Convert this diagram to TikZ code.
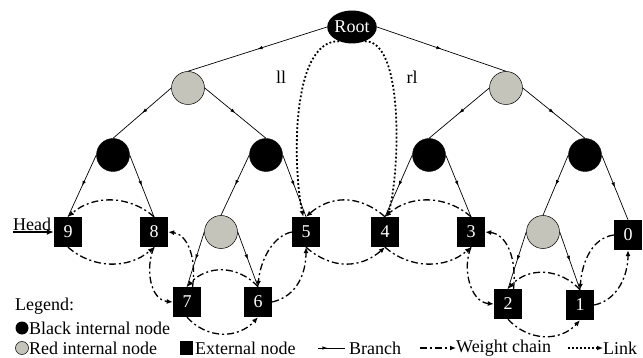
\documentclass[tikz,border=0pt]{standalone}
\usepackage{fontspec}
\setmainfont{Liberation Serif}
\usetikzlibrary{arrows.meta,decorations.markings,shapes.geometric}
\definecolor{rgray}{RGB}{196,196,186}
\begin{document}
\begin{tikzpicture}[x=1pt,y=-1pt,
  font=\fontsize{18}{21}\selectfont,
  blknode/.style={circle,fill=black,draw=black,minimum size=33pt,inner sep=0pt},
  rednode/.style={circle,fill=rgray,draw=black,line width=0.5pt,minimum size=33pt,inner sep=0pt},
  extnode/.style={rectangle,fill=black,text=white,minimum width=28pt,minimum height=30pt,inner sep=0pt},
  branch/.style={line width=0.7pt,postaction={decorate},decoration={markings,mark=at position 0.5 with {\arrow{Latex[length=5pt,width=3.5pt]}}}},
  wchain/.style={line width=1.3pt,dash pattern=on 7pt off 3pt on 2pt off 3pt,-{Latex[length=6pt,width=5pt]}},
  link/.style={line width=1.8pt,dash pattern=on 1.8pt off 2.2pt,-{Latex[length=6pt,width=5pt]}},
  txt/.style={inner sep=0pt}
]
\useasboundingbox (0,0) rectangle (643,358);
\fill[white] (0,0) rectangle (643,358);

% tree nodes
\node[ellipse,fill=black,text=white,minimum width=43pt,minimum height=33pt,inner sep=0pt] (root) at (352,27) {Root};
\node[rednode] (gL) at (188,88) {};
\node[rednode] (gR) at (506,88) {};
\node[blknode] (bA) at (113,155) {};
\node[blknode] (bB) at (266,155) {};
\node[blknode] (bC) at (429,155) {};
\node[blknode] (bD) at (585,155) {};
\node[extnode] (n9) at (68,232) {9};
\node[extnode] (n8) at (154,232) {8};
\node[rednode] (gL3) at (221,232) {};
\node[extnode] (n5) at (306,232) {5};
\node[extnode] (n4) at (385,232) {4};
\node[extnode] (n3) at (471,232) {3};
\node[rednode] (gR3) at (543,232) {};
\node[extnode] (n0) at (628,235) {0};
\node[extnode] (n7) at (187,302) {7};
\node[extnode] (n6) at (258,302) {6};
\node[extnode] (n2) at (508,304) {2};
\node[extnode] (n1) at (580,305) {1};

% branches
\draw[branch] (root.west) -- (gL.north);
\draw[branch] (root.east) -- (gR.north);
\draw[branch] (gL.west) -- (bA.north);
\draw[branch] (gL.east) -- (bB.north);
\draw[branch] (gR.west) -- (bC.north);
\draw[branch] (gR.east) -- (bD.north);
\draw[branch] (bA.west) -- (n9.north);
\draw[branch] (bA.east) -- (n8.north);
\draw[branch] (bB.west) -- (gL3.north);
\draw[branch] (bB.east) -- (n5.north);
\draw[branch] (bC.west) -- (n4.north);
\draw[branch] (bC.east) -- (n3.north);
\draw[branch] (bD.west) -- (gR3.north);
\draw[branch] (bD.east) -- (n0.north);
\draw[branch] (gL3.west) -- (n7.north);
\draw[branch] (gL3.east) -- (n6.north);
\draw[branch] (gR3.west) -- (n2.north);
\draw[branch] (gR3.east) -- (n1.north);

% links
\draw[link] (root.228) .. controls (290,40) and (293,170) .. (n5.100);
\draw[link] (root.312) .. controls (404,40) and (400,170) .. (n4.80);
\node[txt] (ll) at (281,77) {ll};
\node[txt] (rl) at (412,77) {rl};

% weight chain
\draw[wchain] (n8.north) .. controls +(-25,-22) and +(25,-22) .. (n9.north);
\draw[wchain] (n9.south) .. controls +(25,22) and +(-25,22) .. (n8.south);
\draw[wchain] (n7.70) .. controls (197,255) and (186,234) .. (n8.east);
\draw[wchain] (n8.south) .. controls (145,268) and (150,300) .. (n7.west);
\draw[wchain] (n6.north) .. controls +(-20,-22) and +(20,-22) .. (n7.north);
\draw[wchain] (n7.south) .. controls +(20,22) and +(-20,22) .. (n6.south);
\draw[wchain] (n6.east) .. controls (298,296) and (306,272) .. (n5.south);
\draw[wchain] (n5.west) .. controls (272,236) and (260,262) .. (n6.north);
\draw[wchain] (n4.north) .. controls +(-25,-22) and +(25,-22) .. (n5.north);
\draw[wchain] (n5.south) .. controls +(25,22) and +(-25,22) .. (n4.south);
\draw[wchain] (n3.north) .. controls +(-25,-22) and +(25,-22) .. (n4.north);
\draw[wchain] (n4.south) .. controls +(25,22) and +(-25,22) .. (n3.south);
\draw[wchain] (n2.70) .. controls (517,257) and (506,234) .. (n3.east);
\draw[wchain] (n3.south) .. controls (462,268) and (470,302) .. (n2.west);
\draw[wchain] (n1.north) .. controls +(-20,-22) and +(20,-22) .. (n2.north);
\draw[wchain] (n2.south) .. controls +(20,22) and +(-20,22) .. (n1.south);
\draw[wchain] (n1.east) .. controls (618,300) and (628,275) .. (n0.south);
\draw[wchain] (n0.west) .. controls (592,238) and (582,262) .. (n1.north);

% head
\node[txt,anchor=south west] (head) at (13,230.5) {Head};
\coordinate (hs) at (13,232);
\draw[line width=1.3pt,-{Latex[length=7pt,width=6pt]}] (hs) -- (n9.west);

% legend
\node[txt,anchor=west] (leg) at (15,306) {Legend:};
\node[circle,fill=black,minimum size=13pt,inner sep=0pt] (lb) at (22,328) {};
\node[txt,anchor=west] (lbt) at (29,328) {Black internal node};
\node[circle,fill=rgray,draw=black,line width=0.5pt,minimum size=13pt,inner sep=0pt] (lr) at (22,348) {};
\node[txt,anchor=west] (lrt) at (29,348) {Red internal node};
\node[rectangle,fill=black,minimum width=13pt,minimum height=14pt,inner sep=0pt] (le) at (186.5,348) {};
\node[txt,anchor=west] (let) at (195,348) {External node};
\coordinate (lba) at (318,348);
\coordinate (lbb) at (345,348);
\draw[line width=0.7pt,postaction={decorate},decoration={markings,mark=at position 0.35 with {\arrow{Latex[length=5pt,width=3.5pt]}}}] (lba) -- (lbb);
\node[txt,anchor=west] (lbrt) at (349,348) {Branch};
\coordinate (lwa) at (420,348);
\coordinate (lwb) at (456,348);
\draw[wchain] (lwa) -- (lwb);
\node[txt,anchor=west] (lwt) at (456,348) {Weight chain};
\coordinate (lla) at (568,348);
\coordinate (llb) at (603,348);
\draw[link,line width=1.4pt] (lla) -- (llb);
\node[txt,anchor=west] (llt) at (603,348) {Link};
\end{tikzpicture}
\end{document}
